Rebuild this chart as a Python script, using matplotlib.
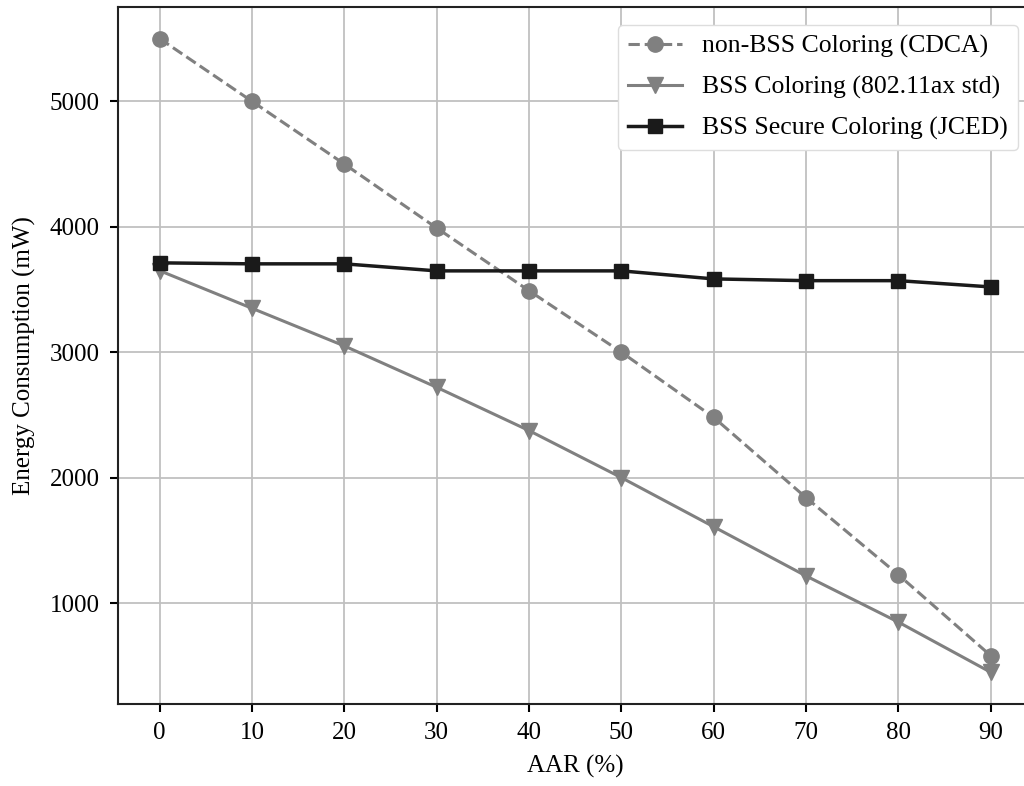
import numpy as np
import matplotlib.pyplot as plt

plt.rcParams['font.family'] = ['Liberation Serif', 'DejaVu Serif']

aar = [0, 10, 20, 30, 40, 50, 60, 70, 80, 90]
cdca = [5500, 5000, 4500, 3990, 3490, 3000, 2480, 1840, 1225, 580]
bss_std = [3650, 3350, 3050, 2720, 2375, 2000, 1608, 1216, 848, 448]
jced = [3712, 3704, 3704, 3648, 3648, 3648, 3584, 3570, 3570, 3520]

fig = plt.figure(figsize=(10.24, 7.86), dpi=100)
ax = fig.add_axes([0.1152, 0.1043, 0.893, 0.887])

ax.plot(aar, cdca, color='#808080', ls='--', lw=2.2, marker='o', ms=11,
        label='non-BSS Coloring (CDCA)')
ax.plot(aar, bss_std, color='#808080', ls='-', lw=2.2, marker='v', ms=11,
        label='BSS Coloring (802.11ax std)')
ax.plot(aar, jced, color='#1a1a1a', ls='-', lw=2.5, marker='s', ms=10,
        label='BSS Secure Coloring (JCED)')

ax.set_xticks(aar)
ax.set_yticks([1000, 2000, 3000, 4000, 5000])
ax.grid(True, color='#c0c0c0', lw=1.3)
ax.set_axisbelow(True)
ax.tick_params(labelsize=18, length=6, width=1.5, pad=7)
for s in ax.spines.values():
    s.set_linewidth(1.5)
    s.set_color('#222222')

ax.set_xlabel('AAR (%)', fontsize=18, labelpad=8)
ax.set_ylabel('Energy Consumption (mW)', fontsize=18, labelpad=10)

ax.legend(loc='upper right', fontsize=18.5, handlelength=2.1, handletextpad=0.75,
          borderpad=0.4, labelspacing=0.68,
          bbox_to_anchor=(0.998, 0.993), framealpha=1, edgecolor='#dddddd')

fig.savefig('out.png', dpi=100)
